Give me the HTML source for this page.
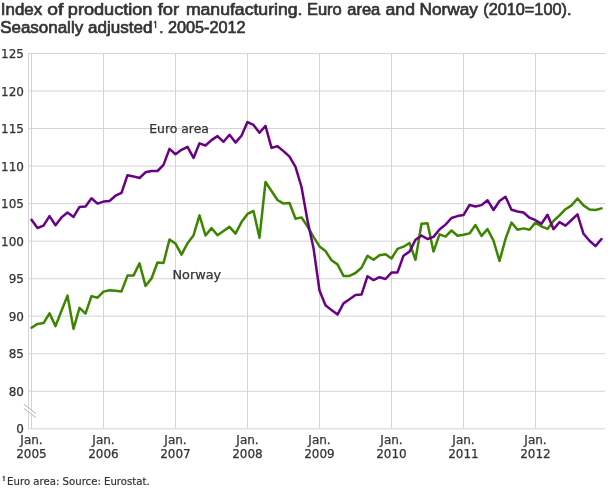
<!DOCTYPE html>
<html><head><meta charset="utf-8"><title>Index of production for manufacturing</title>
<style>
html,body{margin:0;padding:0;background:#fff;}
body{width:610px;height:488px;overflow:hidden;position:relative;font-family:"Liberation Sans","DejaVu Sans",sans-serif;}
svg{position:absolute;left:0;top:0;display:block;will-change:transform;}
.t{font-family:"Liberation Sans",sans-serif;font-weight:normal;font-size:16px;fill:#333;stroke:#333;stroke-width:0.65px;}
.ax{font-family:"DejaVu Sans","Liberation Sans",sans-serif;font-size:12px;fill:#333;stroke:#333;stroke-width:0.25px;}
.lb{font-family:"DejaVu Sans","Liberation Sans",sans-serif;font-size:12px;fill:#333;stroke:#333;stroke-width:0.25px;}
.fn{font-family:"DejaVu Sans","Liberation Sans",sans-serif;font-size:11px;fill:#333;stroke:#333;stroke-width:0.2px;}
</style></head><body>
<svg width="610" height="488" viewBox="0 0 610 488">
<rect x="0" y="0" width="610" height="488" fill="#ffffff"/>
<text class="t" x="0.84" y="15" textLength="41.35" lengthAdjust="spacingAndGlyphs">Index</text>
<text class="t" x="47.32" y="15" textLength="16.02" lengthAdjust="spacingAndGlyphs">of</text>
<text class="t" x="67.89" y="15" textLength="84.57" lengthAdjust="spacingAndGlyphs">production</text>
<text class="t" x="157.74" y="15" textLength="21.38" lengthAdjust="spacingAndGlyphs">for</text>
<text class="t" x="185.90" y="15" textLength="116.56" lengthAdjust="spacingAndGlyphs">manufacturing.</text>
<text class="t" x="306.91" y="15" textLength="34.90" lengthAdjust="spacingAndGlyphs">Euro</text>
<text class="t" x="347.31" y="15" textLength="32.95" lengthAdjust="spacingAndGlyphs">area</text>
<text class="t" x="385.62" y="15" textLength="29.30" lengthAdjust="spacingAndGlyphs">and</text>
<text class="t" x="419.64" y="15" textLength="58.29" lengthAdjust="spacingAndGlyphs">Norway</text>
<text class="t" x="483.25" y="15" textLength="88.17" lengthAdjust="spacingAndGlyphs">(2010=100).</text>
<text class="t" x="0.15" y="32.6" textLength="83.00" lengthAdjust="spacingAndGlyphs">Seasonally</text>
<text class="t" x="88.12" y="32.6" textLength="64.26" lengthAdjust="spacingAndGlyphs">adjusted</text>
<text x="153.1" y="28.2" style="font-family:NanumGothic,'Liberation Sans',sans-serif;font-size:8px;font-weight:bold;fill:#333;stroke:#333;stroke-width:0.35px">1</text>
<text class="t" x="159.18" y="32.6" textLength="4.25" lengthAdjust="spacingAndGlyphs">.</text>
<text class="t" x="167.91" y="32.6" textLength="77.74" lengthAdjust="spacingAndGlyphs">2005-2012</text>
<path d="M28 53.5 H605 M28 91.03 H605 M28 128.56 H605 M28 166.09 H605 M28 203.62 H605 M28 241.15 H605 M28 278.68 H605 M28 316.21 H605 M28 353.74 H605 M28 391.27 H605 M28 428.8 H605 M31.5 53 V429 M103.5 53 V429 M175.5 53 V429 M247.5 53 V429 M319.5 53 V429 M391.5 53 V429 M463.5 53 V429 M535.5 53 V429" stroke="#d4d4d4" stroke-width="1" fill="none"/>
<path d="M28.5 53 V429" stroke="#d4d4d4" stroke-width="1" fill="none"/>
<path d="M23.9 404.2 L35.9 413.6 L35.9 417.6 L23.9 408.4 Z" fill="#ffffff" fill-opacity="0.6" stroke="none"/>
<path d="M23.9 404.2 L35.9 413.6 M23.9 408.4 L35.9 417.6" stroke="#b4b4b4" stroke-width="1" fill="none"/>
<text class="ax" x="24" y="58.1" text-anchor="end">125</text>
<text class="ax" x="24" y="95.6" text-anchor="end">120</text>
<text class="ax" x="24" y="133.2" text-anchor="end">115</text>
<text class="ax" x="24" y="170.7" text-anchor="end">110</text>
<text class="ax" x="24" y="208.2" text-anchor="end">105</text>
<text class="ax" x="24" y="245.8" text-anchor="end">100</text>
<text class="ax" x="24" y="283.3" text-anchor="end">95</text>
<text class="ax" x="24" y="320.8" text-anchor="end">90</text>
<text class="ax" x="24" y="358.3" text-anchor="end">85</text>
<text class="ax" x="24" y="395.9" text-anchor="end">80</text>
<text class="ax" x="24" y="433.4" text-anchor="end">0</text>
<text class="ax" x="31.5" y="443.8" text-anchor="middle">Jan.</text>
<text class="ax" x="31.5" y="458" text-anchor="middle">2005</text>
<text class="ax" x="103.5" y="443.8" text-anchor="middle">Jan.</text>
<text class="ax" x="103.5" y="458" text-anchor="middle">2006</text>
<text class="ax" x="175.5" y="443.8" text-anchor="middle">Jan.</text>
<text class="ax" x="175.5" y="458" text-anchor="middle">2007</text>
<text class="ax" x="247.5" y="443.8" text-anchor="middle">Jan.</text>
<text class="ax" x="247.5" y="458" text-anchor="middle">2008</text>
<text class="ax" x="319.5" y="443.8" text-anchor="middle">Jan.</text>
<text class="ax" x="319.5" y="458" text-anchor="middle">2009</text>
<text class="ax" x="391.5" y="443.8" text-anchor="middle">Jan.</text>
<text class="ax" x="391.5" y="458" text-anchor="middle">2010</text>
<text class="ax" x="463.5" y="443.8" text-anchor="middle">Jan.</text>
<text class="ax" x="463.5" y="458" text-anchor="middle">2011</text>
<text class="ax" x="535.5" y="443.8" text-anchor="middle">Jan.</text>
<text class="ax" x="535.5" y="458" text-anchor="middle">2012</text>
<path d="M31.5 327.7 L37.5 323.9 L43.5 323.1 L49.5 313.3 L55.5 326.1 L61.5 310.8 L67.5 295.6 L73.5 328.9 L79.5 307.9 L85.5 313.6 L91.5 296.1 L97.5 297.7 L103.5 291.6 L109.5 290.3 L115.5 290.8 L121.5 291.4 L127.5 275.6 L133.5 275.6 L139.5 263.3 L145.5 285.9 L151.5 278.5 L157.5 262.5 L163.5 263.0 L169.5 239.5 L175.5 243.6 L181.5 254.6 L187.5 243.3 L193.5 235.4 L199.5 215.4 L205.5 235.5 L211.5 228.1 L217.5 235.2 L223.5 231.0 L229.5 226.9 L235.5 233.6 L241.5 222.1 L247.5 213.9 L253.5 211.0 L259.5 237.7 L265.5 182.0 L271.5 191.0 L277.5 200.0 L283.5 203.6 L289.5 203.0 L295.5 218.8 L301.5 217.4 L307.5 226.5 L313.5 236.8 L319.5 246.4 L325.5 251.0 L331.5 260.3 L337.5 264.4 L343.5 275.9 L349.5 275.9 L355.5 273.0 L361.5 267.7 L367.5 255.9 L373.5 259.8 L379.5 255.3 L385.5 254.2 L391.5 258.5 L397.5 248.9 L403.5 246.7 L409.5 243.0 L415.5 259.8 L421.5 223.8 L427.5 223.3 L433.5 251.6 L439.5 234.4 L445.5 236.6 L451.5 230.5 L457.5 235.7 L463.5 234.8 L469.5 233.4 L475.5 225.1 L481.5 235.9 L487.5 229.2 L493.5 240.7 L499.5 261.0 L505.5 239.0 L511.5 222.6 L517.5 229.7 L523.5 228.4 L529.5 229.7 L535.5 222.6 L541.5 226.4 L547.5 228.9 L553.5 221.0 L559.5 215.4 L565.5 209.2 L571.5 205.4 L577.5 198.5 L583.5 205.4 L589.5 209.5 L595.5 210.0 L601.5 208.4" stroke="#3c8500" stroke-width="2.5" fill="none" stroke-linejoin="round" stroke-linecap="round"/>
<path d="M31.5 219.8 L37.5 228.0 L43.5 225.6 L49.5 216.1 L55.5 225.2 L61.5 217.4 L67.5 212.5 L73.5 216.9 L79.5 206.9 L85.5 206.6 L91.5 198.2 L97.5 203.6 L103.5 201.6 L109.5 201.0 L115.5 195.7 L121.5 192.8 L127.5 175.2 L133.5 176.4 L139.5 178.0 L145.5 172.3 L151.5 171.0 L157.5 171.0 L163.5 164.9 L169.5 148.9 L175.5 154.3 L181.5 149.8 L187.5 146.9 L193.5 157.9 L199.5 143.3 L205.5 145.5 L211.5 140.1 L217.5 136.1 L223.5 141.8 L229.5 134.8 L235.5 142.6 L241.5 135.7 L247.5 122.1 L253.5 124.9 L259.5 132.8 L265.5 125.9 L271.5 147.9 L277.5 146.2 L283.5 151.1 L289.5 156.6 L295.5 166.8 L301.5 187.0 L307.5 220.5 L313.5 248.0 L319.5 290.5 L325.5 305.2 L331.5 310.1 L337.5 314.6 L343.5 303.4 L349.5 299.3 L355.5 295.0 L361.5 294.6 L367.5 276.2 L373.5 280.1 L379.5 277.2 L385.5 279.0 L391.5 272.6 L397.5 272.4 L403.5 255.7 L409.5 251.6 L415.5 239.8 L421.5 235.6 L427.5 239.0 L433.5 236.9 L439.5 229.5 L445.5 224.6 L451.5 218.0 L457.5 216.1 L463.5 215.1 L469.5 205.0 L475.5 206.5 L481.5 205.1 L487.5 200.2 L493.5 210.0 L499.5 201.0 L505.5 196.7 L511.5 209.8 L517.5 211.5 L523.5 212.5 L529.5 217.7 L535.5 220.2 L541.5 223.8 L547.5 214.8 L553.5 229.2 L559.5 222.1 L565.5 225.6 L571.5 220.0 L577.5 214.4 L583.5 233.8 L589.5 240.7 L595.5 246.1 L601.5 239.0" stroke="#690085" stroke-width="2.5" fill="none" stroke-linejoin="round" stroke-linecap="round"/>
<text class="lb" x="149.3" y="132.5" textLength="59.6" lengthAdjust="spacingAndGlyphs">Euro area</text>
<text class="lb" x="172.5" y="278.8" textLength="48.6" lengthAdjust="spacingAndGlyphs">Norway</text>
<text x="1.9" y="481.2" style="font-family:NanumGothic,'Liberation Sans',sans-serif;font-size:6.2px;font-weight:bold;fill:#333;stroke:#333;stroke-width:0.3px">1</text>
<text class="fn" x="7.1" y="485" textLength="142.6" lengthAdjust="spacingAndGlyphs">Euro area: Source: Eurostat.</text>
</svg>
</body></html>
